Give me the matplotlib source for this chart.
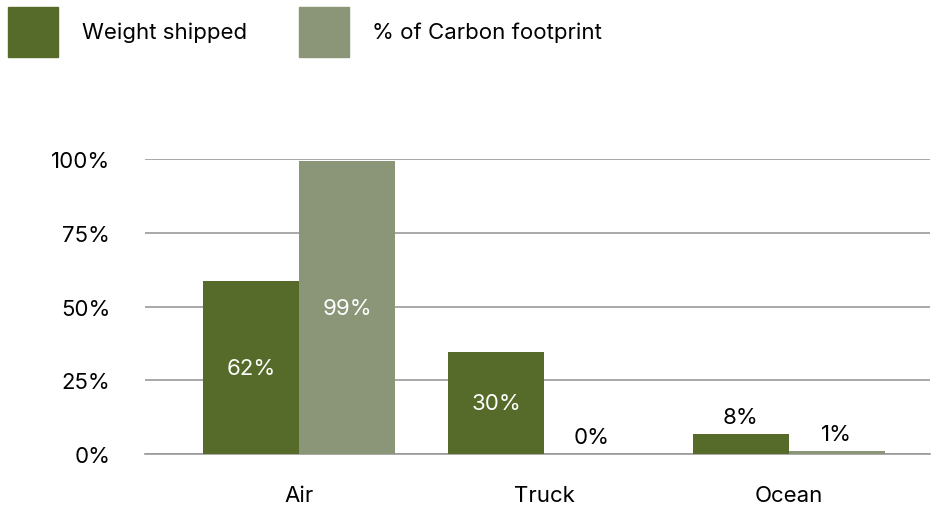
import numpy as np
import matplotlib
matplotlib.use('Agg')
import matplotlib.pyplot as plt
from matplotlib.patches import Rectangle

modes = ["Air", "Truck", "Ocean"]
weight_shipped = [0.586, 0.346, 0.068]
carbon_share = [0.993, 0.0, 0.010]
weight_labels = ["62%", "30%", "8%"]
carbon_labels = ["99%", "0%", "1%"]
yticks = [0, 0.25, 0.5, 0.75, 1.0]
ytick_labels = ["0%", "25%", "50%", "75%", "100%"]
series_names = ["Weight shipped", "% of Carbon footprint"]

dark = "#566b29"
light = "#8a9677"
fs = 16
W, H = 931, 510

plt.rcParams['font.family'] = ['Inter', 'DejaVu Sans']

def add_labels(ax, bars, labels):
    for bar, lab in zip(bars, labels):
        h = bar.get_height()
        cx = bar.get_x() + bar.get_width() / 2
        if h > 0.2:
            ax.text(cx, h / 2, lab, ha='center', va='center', color='white', fontsize=fs)
        else:
            ax.annotate(lab, (cx, h), xytext=(0, 5), textcoords='offset points',
                        ha='center', va='bottom', color='black', fontsize=fs)

fig = plt.figure(figsize=(W / 100, H / 100), dpi=100)
ax = fig.add_axes([145/W, 55/H, 785/W, 295/H])

x = np.arange(len(modes))
w = 0.392
b1 = ax.bar(x - w/2, weight_shipped, w, color=dark, zorder=3)
b2 = ax.bar(x + w/2, carbon_share, w, color=light, zorder=3)
add_labels(ax, b1, weight_labels)
add_labels(ax, b2, carbon_labels)

ax.set_xlim(-0.629, 2.576)
ax.set_ylim(0, 1.0)
ax.set_yticks(yticks)
ax.set_yticklabels(ytick_labels, fontsize=fs)
ax.set_xticks(x)
ax.set_xticklabels(modes, fontsize=fs)
ax.tick_params(axis='both', length=0)
ax.tick_params(axis='y', pad=25)
ax.tick_params(axis='x', pad=22)
ax.grid(axis='y', color='#9a9a9a', linewidth=1.2, zorder=0)
ax.set_axisbelow(True)
for s in ['top', 'right', 'left']:
    ax.spines[s].set_visible(False)
ax.spines['bottom'].set_color('#9a9a9a')
ax.spines['bottom'].set_linewidth(1.2)
ax.spines['bottom'].set_zorder(0)

# legend: 50px squares at top left
for sx, tx, col, name in zip([8, 299], [82, 372], [dark, light], series_names):
    fig.add_artist(Rectangle((sx / W, 1 - 58 / H), 50 / W, 50 / H,
                             transform=fig.transFigure, color=col))
    fig.text(tx / W, 1 - 33 / H, name, fontsize=fs, va='center', ha='left')

fig.savefig("out.png", dpi=100)
